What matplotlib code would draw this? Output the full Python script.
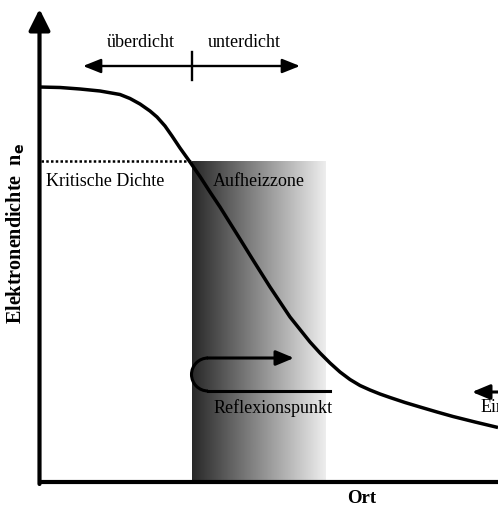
import numpy as np
import matplotlib
matplotlib.use("Agg")
import matplotlib.pyplot as plt
from matplotlib.patches import Arc

plt.rcParams['font.family'] = ['Liberation Serif', 'DejaVu Serif']

# density profile (x = Ort, y = screen-down units of n_e)
ort = [39, 60, 80, 100, 120, 130, 140, 150, 157, 165, 172, 180, 190, 200,
       210, 220, 230, 240, 253, 270, 290, 310, 320, 330, 340, 350, 360, 370,
       380, 390, 405, 420, 437, 453, 475, 498]
dichte = [88, 88.5, 90, 92, 95.5, 99.5, 105, 112, 118, 127, 137, 149, 163, 177.5,
          193, 208, 224, 240, 261, 288, 318, 343, 354, 364, 373, 380.5, 386.5, 391,
          395, 398.5, 403.5, 408, 413, 417.5, 423, 428.5]

krit_dichte = 162
zone_x = [192, 326]            # Aufheizzone
grau = [0.16, 0.93]            # gradient dark -> light
grenze_x = 191                 # ueberdicht / unterdicht boundary

fig = plt.figure(figsize=(4.98, 5.06), dpi=100)
ax = fig.add_axes([0, 0, 1, 1])
ax.set_xlim(0, 498)
ax.set_ylim(506, 0)
ax.axis('off')

# heating zone gradient
grad = np.linspace(grau[0], grau[1], 256).reshape(1, -1)
ax.imshow(grad, extent=(zone_x[0], zone_x[1], 482, krit_dichte), cmap='gray',
          vmin=0, vmax=1, aspect='auto', zorder=1)

# axes
ax.plot([38, 498], [483, 483], color='k', lw=3, solid_capstyle='butt', zorder=4)
ax.annotate('', xy=(39.5, 10), xytext=(39.5, 485),
            arrowprops=dict(arrowstyle='-|>', lw=3, color='k', mutation_scale=32,
                            shrinkA=0, shrinkB=0), zorder=4)

# curve
ax.plot(ort, dichte, color='k', lw=2.5, zorder=3, solid_capstyle='butt',
        solid_joinstyle='round')

# critical density
ax.plot([41, grenze_x], [krit_dichte, krit_dichte], color='k', lw=1.8,
        dashes=(1, 0.9), zorder=3)

# top arrows
ax.annotate('', xy=(83, 67), xytext=(300, 67),
            arrowprops=dict(arrowstyle='<|-|>,head_length=0.6,head_width=0.24',
                            lw=1.7, color='k', mutation_scale=18,
                            shrinkA=0, shrinkB=0))
ax.plot([grenze_x + 1, grenze_x + 1], [53, 81], color='k', lw=1.7)
ax.text(141, 42, 'überdicht', fontsize=13, ha='center', va='center')
ax.text(244, 42, 'unterdicht', fontsize=13, ha='center', va='center')

ax.text(46, 181, 'Kritische Dichte', fontsize=13, ha='left', va='center', zorder=5)
ax.text(213, 181, 'Aufheizzone', fontsize=13, ha='left', va='center', zorder=5)

# reflection
ax.plot([208, 330], [392, 392], color='k', lw=2.2, zorder=3)
ax.add_patch(Arc((208, 375.5), 33, 33, theta1=90, theta2=270, color='k', lw=2.2,
                 zorder=3))
ax.annotate('', xy=(294, 359), xytext=(207.5, 359),
            arrowprops=dict(arrowstyle='-|>,head_length=0.6,head_width=0.25',
                            lw=2.2, color='k', mutation_scale=18,
                            shrinkA=0, shrinkB=0), zorder=3)
ax.text(214, 408, 'Reflexionspunkt', fontsize=13, ha='left', va='center', zorder=5)

# incoming
ax.annotate('', xy=(472, 393), xytext=(500, 393),
            arrowprops=dict(arrowstyle='-|>,head_length=0.6,head_width=0.25',
                            lw=2.2, color='k', mutation_scale=18,
                            shrinkA=0, shrinkB=0), zorder=3)
ax.text(481, 408, 'Einfall', fontsize=13, ha='left', va='center', clip_on=True)

# labels
ax.text(362, 499, 'Ort', fontsize=13.5, fontweight='bold', ha='center', va='center')
ax.text(16, 233, r'Elektronendichte  n$_\mathbf{e}$', fontsize=14.5, fontweight='bold',
        rotation=90, ha='center', va='center')

fig.savefig('out.png', dpi=100)
